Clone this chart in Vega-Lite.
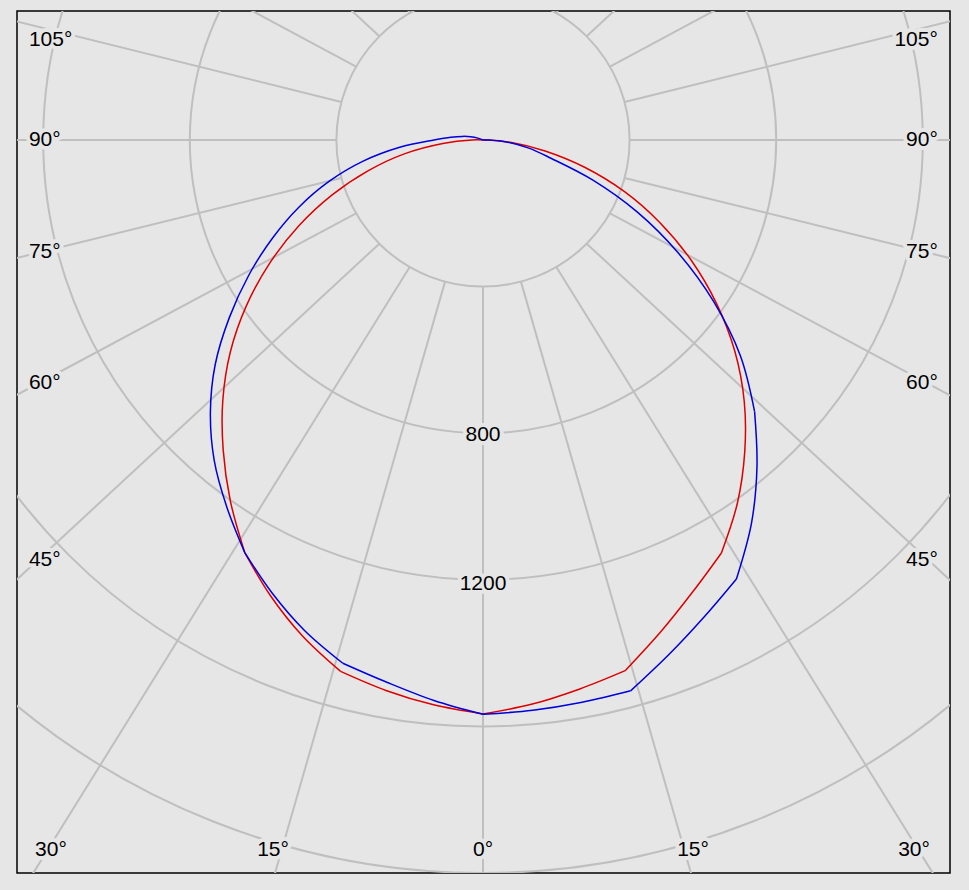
{
  "$schema": "https://vega.github.io/schema/vega-lite/v6.json",
  "width": 933,
  "height": 862,
  "autosize": {"type": "none"},
  "padding": {"left": 17, "top": 11, "right": 19, "bottom": 17},
  "background": "#e6e6e6",
  "config": {"view": {"stroke": "#000000", "strokeWidth": 1.5, "fill": "#e6e6e6"}},
  "datasets": {
    "labels": [
      {"t": "105°", "x": -1239, "y": 273, "al": "left"},
      {"t": "90°", "x": -1239, "y": 0, "al": "left"},
      {"t": "75°", "x": -1239, "y": -306, "al": "left"},
      {"t": "60°", "x": -1239, "y": -663, "al": "left"},
      {"t": "45°", "x": -1239, "y": -1146, "al": "left"},
      {"t": "105°", "x": 1241, "y": 273, "al": "right"},
      {"t": "90°", "x": 1241, "y": 0, "al": "right"},
      {"t": "75°", "x": 1241, "y": -306, "al": "right"},
      {"t": "60°", "x": 1241, "y": -663, "al": "right"},
      {"t": "45°", "x": 1241, "y": -1146, "al": "right"},
      {"t": "30°", "x": -1179, "y": -1937, "al": "center"},
      {"t": "15°", "x": -573, "y": -1937, "al": "center"},
      {"t": "0°", "x": 0, "y": -1937, "al": "center"},
      {"t": "15°", "x": 573, "y": -1937, "al": "center"},
      {"t": "30°", "x": 1176, "y": -1937, "al": "center"},
      {"t": "800", "x": 0, "y": -806, "al": "center"},
      {"t": "1200", "x": 0, "y": -1211, "al": "center"}
    ]
  },
  "layer": [
    {
      "data": {"values": [{"r": 400}, {"r": 800}, {"r": 1200}, {"r": 1600}, {"r": 2000}]},
      "mark": {"type": "arc", "filled": false, "color": "#bfbfbf", "strokeWidth": 2, "theta": 0, "theta2": 6.2832, "clip": true},
      "encoding": {
        "x": {"datum": 0, "type": "quantitative", "scale": {"domain": [-1271.5, 1274.2], "nice": false, "zero": false}, "axis": null},
        "y": {"datum": 0, "type": "quantitative", "scale": {"domain": [-2000, 352], "nice": false, "zero": false}, "axis": null},
        "radius": {"field": "r", "type": "quantitative", "stack": null, "scale": {"type": "linear", "domain": [0, 2000], "range": [0, 733], "zero": true}}
      }
    },
    {
      "data": {"values": [
        {"a": 0, "o": 0}, {"a": 15, "o": 15.9}, {"a": 30, "o": 31.6}, {"a": 45, "o": 46.9},
        {"a": 60, "o": 61.6}, {"a": 75, "o": 76.0}, {"a": 90, "o": 90}, {"a": 105, "o": 104.1},
        {"a": 120, "o": 118.5}, {"a": 135, "o": 133.2}, {"a": 150, "o": 148.4}, {"a": 165, "o": 164.1},
        {"a": 180, "o": 180}, {"a": 195, "o": 195.9}, {"a": 210, "o": 211.6}, {"a": 225, "o": 226.8},
        {"a": 240, "o": 241.5}, {"a": 255, "o": 255.9}, {"a": 270, "o": 270}, {"a": 285, "o": 284.0},
        {"a": 300, "o": 298.4}, {"a": 315, "o": 313.1}, {"a": 330, "o": 328.4}, {"a": 345, "o": 344.1}
      ]},
      "transform": [
        {"calculate": "400*sin(datum.a*PI/180)", "as": "x"},
        {"calculate": "-400*cos(datum.a*PI/180)", "as": "y"},
        {"calculate": "3000*sin(datum.o*PI/180)", "as": "x2"},
        {"calculate": "-3000*cos(datum.o*PI/180)", "as": "y2"}
      ],
      "mark": {"type": "rule", "color": "#bfbfbf", "strokeWidth": 2, "clip": true},
      "encoding": {
        "x": {"field": "x", "type": "quantitative", "scale": {"domain": [-1271.5, 1274.2], "nice": false, "zero": false}, "axis": null},
        "y": {"field": "y", "type": "quantitative", "scale": {"domain": [-2000, 352], "nice": false, "zero": false}, "axis": null},
        "x2": {"field": "x2"},
        "y2": {"field": "y2"}
      }
    },
    {
      "data": {"values": [
        {"s": "red", "g": "r1", "side": "L", "a": 180, "I": 0},
        {"s": "red", "g": "r1", "side": "L", "a": 90, "I": 30},
        {"s": "red", "g": "r1", "side": "L", "a": 85, "I": 110},
        {"s": "red", "g": "r1", "side": "L", "a": 80, "I": 218},
        {"s": "red", "g": "r1", "side": "L", "a": 75, "I": 325},
        {"s": "red", "g": "r1", "side": "L", "a": 70, "I": 438},
        {"s": "red", "g": "r1", "side": "L", "a": 65, "I": 555},
        {"s": "red", "g": "r1", "side": "L", "a": 60, "I": 672},
        {"s": "red", "g": "r1", "side": "L", "a": 55, "I": 788},
        {"s": "red", "g": "r1", "side": "L", "a": 50, "I": 900},
        {"s": "red", "g": "r1", "side": "L", "a": 45, "I": 1004},
        {"s": "red", "g": "r1", "side": "L", "a": 40, "I": 1103},
        {"s": "red", "g": "r1", "side": "L", "a": 35, "I": 1202},
        {"s": "red", "g": "r1", "side": "L", "a": 30, "I": 1300},
        {"s": "red", "g": "r2", "side": "L", "a": 30, "I": 1300},
        {"s": "red", "g": "r2", "side": "L", "a": 25, "I": 1372},
        {"s": "red", "g": "r2", "side": "L", "a": 20, "I": 1440},
        {"s": "red", "g": "r2", "side": "L", "a": 15, "I": 1501},
        {"s": "red", "g": "r3", "side": "L", "a": 15, "I": 1501},
        {"s": "red", "g": "r3", "side": "L", "a": 10, "I": 1525},
        {"s": "red", "g": "r3", "side": "L", "a": 5, "I": 1547},
        {"s": "red", "g": "r3", "side": "R", "a": 0, "I": 1566},
        {"s": "red", "g": "r4", "side": "R", "a": 0, "I": 1566},
        {"s": "red", "g": "r4", "side": "R", "a": 5, "I": 1545},
        {"s": "red", "g": "r4", "side": "R", "a": 10, "I": 1521},
        {"s": "red", "g": "r4", "side": "R", "a": 15, "I": 1499},
        {"s": "red", "g": "r5", "side": "R", "a": 15, "I": 1499},
        {"s": "red", "g": "r5", "side": "R", "a": 20, "I": 1425},
        {"s": "red", "g": "r5", "side": "R", "a": 25, "I": 1358},
        {"s": "red", "g": "r5", "side": "R", "a": 30, "I": 1301},
        {"s": "red", "g": "r6", "side": "R", "a": 30, "I": 1301},
        {"s": "red", "g": "r6", "side": "R", "a": 35, "I": 1210},
        {"s": "red", "g": "r6", "side": "R", "a": 40, "I": 1111},
        {"s": "red", "g": "r6", "side": "R", "a": 45, "I": 1008},
        {"s": "red", "g": "r6", "side": "R", "a": 50, "I": 897},
        {"s": "red", "g": "r6", "side": "R", "a": 55, "I": 778},
        {"s": "red", "g": "r6", "side": "R", "a": 60, "I": 656},
        {"s": "red", "g": "r6", "side": "R", "a": 65, "I": 532},
        {"s": "red", "g": "r6", "side": "R", "a": 70, "I": 410},
        {"s": "red", "g": "r6", "side": "R", "a": 75, "I": 287},
        {"s": "red", "g": "r6", "side": "R", "a": 80, "I": 172},
        {"s": "red", "g": "r6", "side": "R", "a": 85, "I": 78},
        {"s": "red", "g": "r6", "side": "R", "a": 90, "I": 14},
        {"s": "red", "g": "r6", "side": "R", "a": 180, "I": 0},
        {"s": "blue", "g": "b1", "side": "L", "a": 180, "I": 0},
        {"s": "blue", "g": "b1", "side": "L", "a": 110, "I": 15},
        {"s": "blue", "g": "b1", "side": "L", "a": 105, "I": 35},
        {"s": "blue", "g": "b1", "side": "L", "a": 100, "I": 57},
        {"s": "blue", "g": "b1", "side": "L", "a": 95, "I": 88},
        {"s": "blue", "g": "b1", "side": "L", "a": 90, "I": 134},
        {"s": "blue", "g": "b1", "side": "L", "a": 85, "I": 228},
        {"s": "blue", "g": "b1", "side": "L", "a": 80, "I": 332},
        {"s": "blue", "g": "b1", "side": "L", "a": 75, "I": 434},
        {"s": "blue", "g": "b1", "side": "L", "a": 70, "I": 534},
        {"s": "blue", "g": "b1", "side": "L", "a": 65, "I": 634},
        {"s": "blue", "g": "b1", "side": "L", "a": 60, "I": 738},
        {"s": "blue", "g": "b1", "side": "L", "a": 55, "I": 845},
        {"s": "blue", "g": "b1", "side": "L", "a": 50, "I": 954},
        {"s": "blue", "g": "b1", "side": "L", "a": 45, "I": 1052},
        {"s": "blue", "g": "b1", "side": "L", "a": 40, "I": 1141},
        {"s": "blue", "g": "b1", "side": "L", "a": 35, "I": 1220},
        {"s": "blue", "g": "b1", "side": "L", "a": 30, "I": 1300},
        {"s": "blue", "g": "b2", "side": "L", "a": 30, "I": 1300},
        {"s": "blue", "g": "b2", "side": "L", "a": 25, "I": 1363},
        {"s": "blue", "g": "b2", "side": "L", "a": 20, "I": 1424},
        {"s": "blue", "g": "b2", "side": "L", "a": 15, "I": 1478},
        {"s": "blue", "g": "b3", "side": "L", "a": 15, "I": 1478},
        {"s": "blue", "g": "b3", "side": "L", "a": 10, "I": 1503},
        {"s": "blue", "g": "b3", "side": "L", "a": 5, "I": 1535},
        {"s": "blue", "g": "b3", "side": "R", "a": 0, "I": 1567},
        {"s": "blue", "g": "b4", "side": "R", "a": 0, "I": 1567},
        {"s": "blue", "g": "b4", "side": "R", "a": 5, "I": 1562},
        {"s": "blue", "g": "b4", "side": "R", "a": 10, "I": 1558},
        {"s": "blue", "g": "b4", "side": "R", "a": 15, "I": 1556},
        {"s": "blue", "g": "b5", "side": "R", "a": 15, "I": 1556},
        {"s": "blue", "g": "b5", "side": "R", "a": 20, "I": 1491},
        {"s": "blue", "g": "b5", "side": "R", "a": 25, "I": 1433},
        {"s": "blue", "g": "b5", "side": "R", "a": 30, "I": 1383},
        {"s": "blue", "g": "b6", "side": "R", "a": 30, "I": 1383},
        {"s": "blue", "g": "b6", "side": "R", "a": 35, "I": 1277},
        {"s": "blue", "g": "b6", "side": "R", "a": 40, "I": 1163},
        {"s": "blue", "g": "b6", "side": "R", "a": 45, "I": 1048},
        {"s": "blue", "g": "b7", "side": "R", "a": 45, "I": 1048},
        {"s": "blue", "g": "b7", "side": "R", "a": 50, "I": 917},
        {"s": "blue", "g": "b7", "side": "R", "a": 55, "I": 768},
        {"s": "blue", "g": "b7", "side": "R", "a": 60, "I": 614},
        {"s": "blue", "g": "b7", "side": "R", "a": 65, "I": 464},
        {"s": "blue", "g": "b7", "side": "R", "a": 70, "I": 318},
        {"s": "blue", "g": "b7", "side": "R", "a": 75, "I": 192},
        {"s": "blue", "g": "b7", "side": "R", "a": 80, "I": 127},
        {"s": "blue", "g": "b7", "side": "R", "a": 85, "I": 68},
        {"s": "blue", "g": "b7", "side": "R", "a": 90, "I": 16},
        {"s": "blue", "g": "b7", "side": "R", "a": 180, "I": 0}
      ]},
      "transform": [
        {"calculate": "(datum.side=='L' ? -1 : 1)*datum.I*sin(datum.a*PI/180)", "as": "x"},
        {"calculate": "-datum.I*cos(datum.a*PI/180)", "as": "y"},
        {"calculate": "datum.side=='L' ? -datum.a : datum.a", "as": "t"}
      ],
      "mark": {"type": "line", "strokeWidth": 1.5, "interpolate": "catmull-rom", "clip": true},
      "encoding": {
        "x": {"field": "x", "type": "quantitative", "scale": {"domain": [-1271.5, 1274.2], "nice": false, "zero": false}, "axis": null},
        "y": {"field": "y", "type": "quantitative", "scale": {"domain": [-2000, 352], "nice": false, "zero": false}, "axis": null},
        "color": {"field": "s", "type": "nominal", "scale": {"domain": ["red", "blue"], "range": ["#dd0000", "#0000dd"]}, "legend": null},
        "detail": {"field": "g"},
        "order": {"field": "t", "type": "quantitative"}
      }
    },
    {
      "data": {"name": "labels"},
      "transform": [{"filter": "datum.al=='left'"}],
      "mark": {"type": "text", "align": "left", "baseline": "middle", "font": "Liberation Sans", "fontSize": 21, "color": "#e6e6e6", "stroke": "#e6e6e6", "strokeWidth": 8, "strokeJoin": "round"},
      "encoding": {
        "x": {"field": "x", "type": "quantitative", "scale": {"domain": [-1271.5, 1274.2], "nice": false, "zero": false}, "axis": null},
        "y": {"field": "y", "type": "quantitative", "scale": {"domain": [-2000, 352], "nice": false, "zero": false}, "axis": null},
        "text": {"field": "t"}
      }
    },
    {
      "data": {"name": "labels"},
      "transform": [{"filter": "datum.al=='right'"}],
      "mark": {"type": "text", "align": "right", "baseline": "middle", "font": "Liberation Sans", "fontSize": 21, "color": "#e6e6e6", "stroke": "#e6e6e6", "strokeWidth": 8, "strokeJoin": "round"},
      "encoding": {
        "x": {"field": "x", "type": "quantitative", "scale": {"domain": [-1271.5, 1274.2], "nice": false, "zero": false}, "axis": null},
        "y": {"field": "y", "type": "quantitative", "scale": {"domain": [-2000, 352], "nice": false, "zero": false}, "axis": null},
        "text": {"field": "t"}
      }
    },
    {
      "data": {"name": "labels"},
      "transform": [{"filter": "datum.al=='center'"}],
      "mark": {"type": "text", "align": "center", "baseline": "middle", "font": "Liberation Sans", "fontSize": 21, "color": "#e6e6e6", "stroke": "#e6e6e6", "strokeWidth": 8, "strokeJoin": "round"},
      "encoding": {
        "x": {"field": "x", "type": "quantitative", "scale": {"domain": [-1271.5, 1274.2], "nice": false, "zero": false}, "axis": null},
        "y": {"field": "y", "type": "quantitative", "scale": {"domain": [-2000, 352], "nice": false, "zero": false}, "axis": null},
        "text": {"field": "t"}
      }
    },
    {
      "data": {"name": "labels"},
      "transform": [{"filter": "datum.al=='left'"}],
      "mark": {"type": "text", "align": "left", "baseline": "middle", "font": "Liberation Sans", "fontSize": 21, "color": "#000000"},
      "encoding": {
        "x": {"field": "x", "type": "quantitative", "scale": {"domain": [-1271.5, 1274.2], "nice": false, "zero": false}, "axis": null},
        "y": {"field": "y", "type": "quantitative", "scale": {"domain": [-2000, 352], "nice": false, "zero": false}, "axis": null},
        "text": {"field": "t"}
      }
    },
    {
      "data": {"name": "labels"},
      "transform": [{"filter": "datum.al=='right'"}],
      "mark": {"type": "text", "align": "right", "baseline": "middle", "font": "Liberation Sans", "fontSize": 21, "color": "#000000"},
      "encoding": {
        "x": {"field": "x", "type": "quantitative", "scale": {"domain": [-1271.5, 1274.2], "nice": false, "zero": false}, "axis": null},
        "y": {"field": "y", "type": "quantitative", "scale": {"domain": [-2000, 352], "nice": false, "zero": false}, "axis": null},
        "text": {"field": "t"}
      }
    },
    {
      "data": {"name": "labels"},
      "transform": [{"filter": "datum.al=='center'"}],
      "mark": {"type": "text", "align": "center", "baseline": "middle", "font": "Liberation Sans", "fontSize": 21, "color": "#000000"},
      "encoding": {
        "x": {"field": "x", "type": "quantitative", "scale": {"domain": [-1271.5, 1274.2], "nice": false, "zero": false}, "axis": null},
        "y": {"field": "y", "type": "quantitative", "scale": {"domain": [-2000, 352], "nice": false, "zero": false}, "axis": null},
        "text": {"field": "t"}
      }
    }
  ]
}
